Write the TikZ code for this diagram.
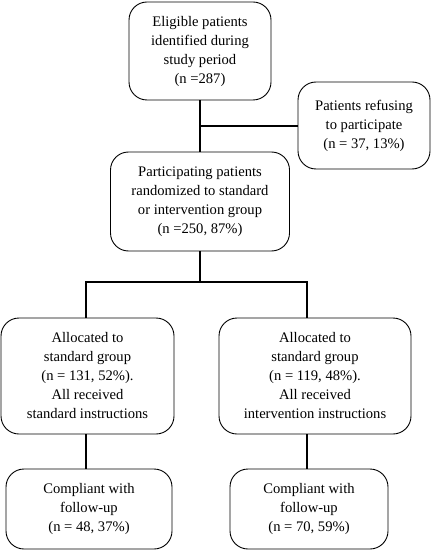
\documentclass[tikz,border=0pt]{standalone}
\usepackage{fontspec}
\setmainfont{Liberation Serif}
\begin{document}
\begin{tikzpicture}[x=1bp,y=-1bp,
  box/.style={draw, line width=0.9bp, rounded corners=18bp, align=center, inner sep=0pt,
    font=\fontsize{14.6bp}{19bp}\selectfont},
  conn/.style={line width=2bp}]
\useasboundingbox (0,0) rectangle (434,550);
\node[box, minimum width=142bp, minimum height=98bp] (elig) at (200,51)
  {Eligible patients\\identified during\\study period\\(n =287)};
\node[box, minimum width=132bp, minimum height=87bp] (ref) at (364,125.5)
  {Patients refusing\\to participate\\(n = 37, 13\%)};
\node[box, minimum width=179bp, minimum height=99bp] (part) at (200,201.5)
  {Participating patients\\randomized to standard\\or intervention group\\(n =250, 87\%)};
\node[box, minimum width=173bp, minimum height=116bp] (left) at (87.5,376)
  {Allocated to\\standard group\\(n = 131, 52\%).\\All received\\standard instructions};
\node[box, minimum width=192bp, minimum height=116bp] (right) at (315,376)
  {Allocated to\\standard group\\(n = 119, 48\%).\\All received\\intervention instructions};
\node[box, minimum width=166bp, minimum height=80bp] (bl) at (89,509)
  {Compliant with\\follow-up\\(n = 48, 37\%)};
\node[box, minimum width=158bp, minimum height=80bp] (br) at (309,509)
  {Compliant with\\follow-up\\(n = 70, 59\%)};
\coordinate (j1) at (200,126);
\coordinate (j2) at (200,282);
\coordinate (jl) at (86,282);
\coordinate (jr) at (307,282);
\draw[conn] (elig.south) -- (part.north);
\draw[conn] (j1) -- (j1 -| ref.west);
\draw[conn] (part.south) -- (j2);
\draw[conn] ([xshift=-1bp]jl) -- ([xshift=1bp]jr);
\draw[conn] (jl) -- (jl |- left.north);
\draw[conn] (jr) -- (jr |- right.north);
\draw[conn] (jl |- left.south) -- (jl |- bl.north);
\draw[conn] (jr |- right.south) -- (jr |- br.north);
\end{tikzpicture}
\end{document}
